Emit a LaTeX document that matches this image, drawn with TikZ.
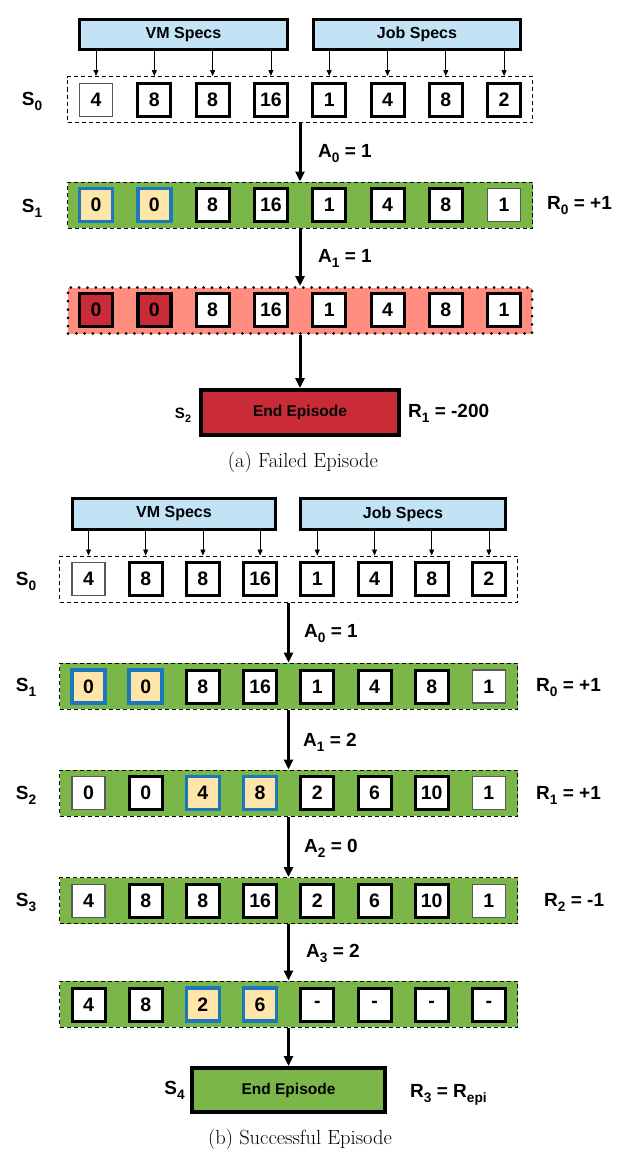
\documentclass[tikz,border=0pt]{standalone}
\usepackage{fontspec}
\usepackage{graphicx}
\setsansfont{Liberation Sans}
\usetikzlibrary{arrows.meta}
\definecolor{specblue}{HTML}{C2E3F5}
\definecolor{stgreen}{HTML}{7AB648}
\definecolor{selyel}{HTML}{FFE6A8}
\definecolor{selblue}{HTML}{1C78BE}
\definecolor{failsalmon}{HTML}{FF8E80}
\definecolor{failred}{HTML}{C92B37}
\newcommand\sbs[1]{\raisebox{-0.28em}{\scalebox{0.72}{#1}}}
\tikzset{
  lbl/.style={font=\sffamily\bfseries\fontsize{19}{22}\selectfont, inner sep=0, anchor=base west},
  lblc/.style={font=\sffamily\bfseries\fontsize{19}{22}\selectfont, inner sep=0, anchor=base},
  cellbase/.style={rectangle, minimum width=33pt, minimum height=33pt, inner sep=0, outer sep=0,
     font=\sffamily\bfseries\fontsize{19.5}{22}\selectfont, fill=white},
  cellk/.style={cellbase, draw=black, line width=3pt},
  cellg/.style={cellbase, draw=black!65, line width=1.5pt},
  cellsel/.style={cellbase, draw=selblue, fill=selyel, line width=3.5pt},
  cellfail/.style={cellbase, draw=black, fill=failred, line width=3.5pt},
  specbox/.style={draw, line width=3pt, fill=specblue, inner sep=0,
     font=\sffamily\bfseries\fontsize{16}{19}\selectfont},
  rowdash/.style={draw, line width=1pt, dash pattern=on 4pt off 3pt, inner sep=0, minimum height=46pt},
  rowdot/.style={draw, line width=3pt, dash pattern=on 0pt off 8.3pt, line cap=round, inner sep=0, minimum height=46pt},
  endbox/.style={draw, line width=4pt, inner sep=0, font=\sffamily\bfseries\fontsize{15.5}{18}\selectfont},
  bigarrow/.style={-{Triangle[length=10pt,width=9pt]}, line width=3pt},
  smallarrow/.style={-{Triangle[length=6pt,width=5pt]}, line width=0.8pt},
  capt/.style={font=\rmfamily\fontsize{20.5}{24}\selectfont, inner sep=0}
}
\begin{document}
\begin{tikzpicture}[x=1pt,y=-1pt]
\useasboundingbox (0,0) rectangle (630,1159);

% ================= (a) Failed episode =================
\node[specbox, minimum width=208pt, minimum height=30pt] (avm) at (183.5,34.5) {VM Specs};
\node[specbox, minimum width=207pt, minimum height=30pt] (ajob) at (417,34.5) {Job Specs};

\node[rowdash, minimum width=465pt] (ar0) at (300,99.5) {};
\node[rowdash, fill=stgreen, minimum width=465pt] (ar1) at (300,205) {};
\node[rowdot, fill=failsalmon, minimum width=464pt] (ar2) at (300,310.5) {};

\foreach \v/\s [count=\i] in {4/cellg,8/cellk,8/cellk,16/cellk,1/cellk,4/cellk,8/cellk,2/cellk}
  \node[\s] (a0c\i) at ({96+58.3*(\i-1)},100) {\v};
\foreach \v/\s [count=\i] in {0/cellsel,0/cellsel,8/cellk,16/cellk,1/cellk,4/cellk,8/cellk,1/cellg}
  \node[\s] (a1c\i) at ({96+58.3*(\i-1)},205) {\v};
\foreach \v/\s [count=\i] in {0/cellfail,0/cellfail,8/cellk,16/cellk,1/cellk,4/cellk,8/cellk,1/cellk}
  \node[\s] (a2c\i) at ({96+58.3*(\i-1)},310) {\v};

\foreach \i in {1,2,3,4}
  \draw[smallarrow] (avm.south -| a0c\i) -- (a0c\i |- ar0.north);
\foreach \i in {5,6,7,8}
  \draw[smallarrow] (ajob.south -| a0c\i) -- (a0c\i |- ar0.north);

\node[endbox, fill=failred, minimum width=198pt, minimum height=45pt] (aend) at (300,412.5) {End Episode};

\draw[bigarrow] (ar0.south) -- (ar1.north);
\draw[bigarrow] (ar1.south) -- (ar2.north);
\draw[bigarrow] (ar2.south) -- (aend.north);

\node[lblc] (as0) at (32,105) {S\sbs{0}};
\node[lblc] (as1) at (32,212) {S\sbs{1}};
\node[lblc, font=\sffamily\bfseries\fontsize{15}{18}\selectfont] (as2) at (183,418) {S\sbs{2}};
\node[lbl] (aa0) at (318,157) {A\sbs{0} = 1};
\node[lbl] (aa1) at (318,262) {A\sbs{1} = 1};
\node[lbl] (ar0l) at (547,209) {R\sbs{0} = +1};
\node[lbl] (ar1l) at (408,417) {R\sbs{1} = -200};
\node[capt] (acap) at (303,462) {(a) Failed Episode};

% ================= (b) Successful episode =================
\node[specbox, minimum width=203pt, minimum height=31pt] (bvm) at (174,514) {VM Specs};
\node[specbox, minimum width=205pt, minimum height=31pt] (bjob) at (403,514) {Job Specs};

\node[rowdash, minimum width=458pt] (br0) at (288.5,579) {};
\node[rowdash, fill=stgreen, minimum width=458pt] (br1) at (288.5,686) {};
\node[rowdash, fill=stgreen, minimum width=458pt] (br2) at (288.5,793) {};
\node[rowdash, fill=stgreen, minimum width=458pt] (br3) at (288.5,900.5) {};
\node[rowdash, fill=stgreen, minimum width=458pt] (br4) at (288.5,1004) {};

\foreach \v/\s [count=\i] in {4/cellg,8/cellk,8/cellk,16/cellk,1/cellk,4/cellk,8/cellk,2/cellk}
  \node[\s] (b0c\i) at ({88.5+57.2*(\i-1)},579) {\v};
\foreach \v/\s [count=\i] in {0/cellsel,0/cellsel,8/cellk,16/cellk,1/cellk,4/cellk,8/cellk,1/cellg}
  \node[\s] (b1c\i) at ({88.5+57.2*(\i-1)},686.5) {\v};
\foreach \v/\s [count=\i] in {0/cellg,0/cellk,4/cellsel,8/cellsel,2/cellk,6/cellk,10/cellk,1/cellg}
  \node[\s] (b2c\i) at ({88.5+57.2*(\i-1)},793) {\v};
\foreach \v/\s [count=\i] in {4/cellg,8/cellk,8/cellk,16/cellk,2/cellk,6/cellk,10/cellk,1/cellg}
  \node[\s] (b3c\i) at ({88.5+57.2*(\i-1)},901) {\v};
\foreach \v/\s [count=\i] in {4/cellk,8/cellk,2/cellsel,6/cellsel,-/cellk,-/cellk,-/cellk,-/cellk}
  \node[\s] (b4c\i) at ({88.5+57.2*(\i-1)},1004.5) {\v};

\foreach \i in {1,2,3,4}
  \draw[smallarrow] (bvm.south -| b0c\i) -- (b0c\i |- br0.north);
\foreach \i in {5,6,7,8}
  \draw[smallarrow] (bjob.south -| b0c\i) -- (b0c\i |- br0.north);

\node[endbox, fill=stgreen, minimum width=193pt, minimum height=44pt] (bend) at (288.5,1090) {End Episode};

\draw[bigarrow] (br0.south) -- (br1.north);
\draw[bigarrow] (br1.south) -- (br2.north);
\draw[bigarrow] (br2.south) -- (br3.north);
\draw[bigarrow] (br3.south) -- (br4.north);
\draw[bigarrow] (br4.south) -- (bend.north);

\node[lblc] (bs0) at (26,585) {S\sbs{0}};
\node[lblc] (bs1) at (26,691) {S\sbs{1}};
\node[lblc] (bs2) at (26,799) {S\sbs{2}};
\node[lblc] (bs3) at (26,906) {S\sbs{3}};
\node[lblc] (bs4) at (174.5,1094) {S\sbs{4}};
\node[lbl] (ba0) at (304,637) {A\sbs{0} = 1};
\node[lbl] (ba1) at (303,746) {A\sbs{1} = 2};
\node[lbl] (ba2) at (304,852) {A\sbs{2} = 0};
\node[lbl] (ba3) at (306,957) {A\sbs{3} = 2};
\node[lbl] (br0l) at (536,691) {R\sbs{0} = +1};
\node[lbl] (br1l) at (536,799) {R\sbs{1} = +1};
\node[lbl] (br2l) at (544,906) {R\sbs{2} = -1};
\node[lbl] (br3l) at (410,1097) {R\sbs{3} = R\sbs{epi}};
\node[capt] (bcap) at (300,1139) {(b) Successful Episode};
\end{tikzpicture}
\end{document}
